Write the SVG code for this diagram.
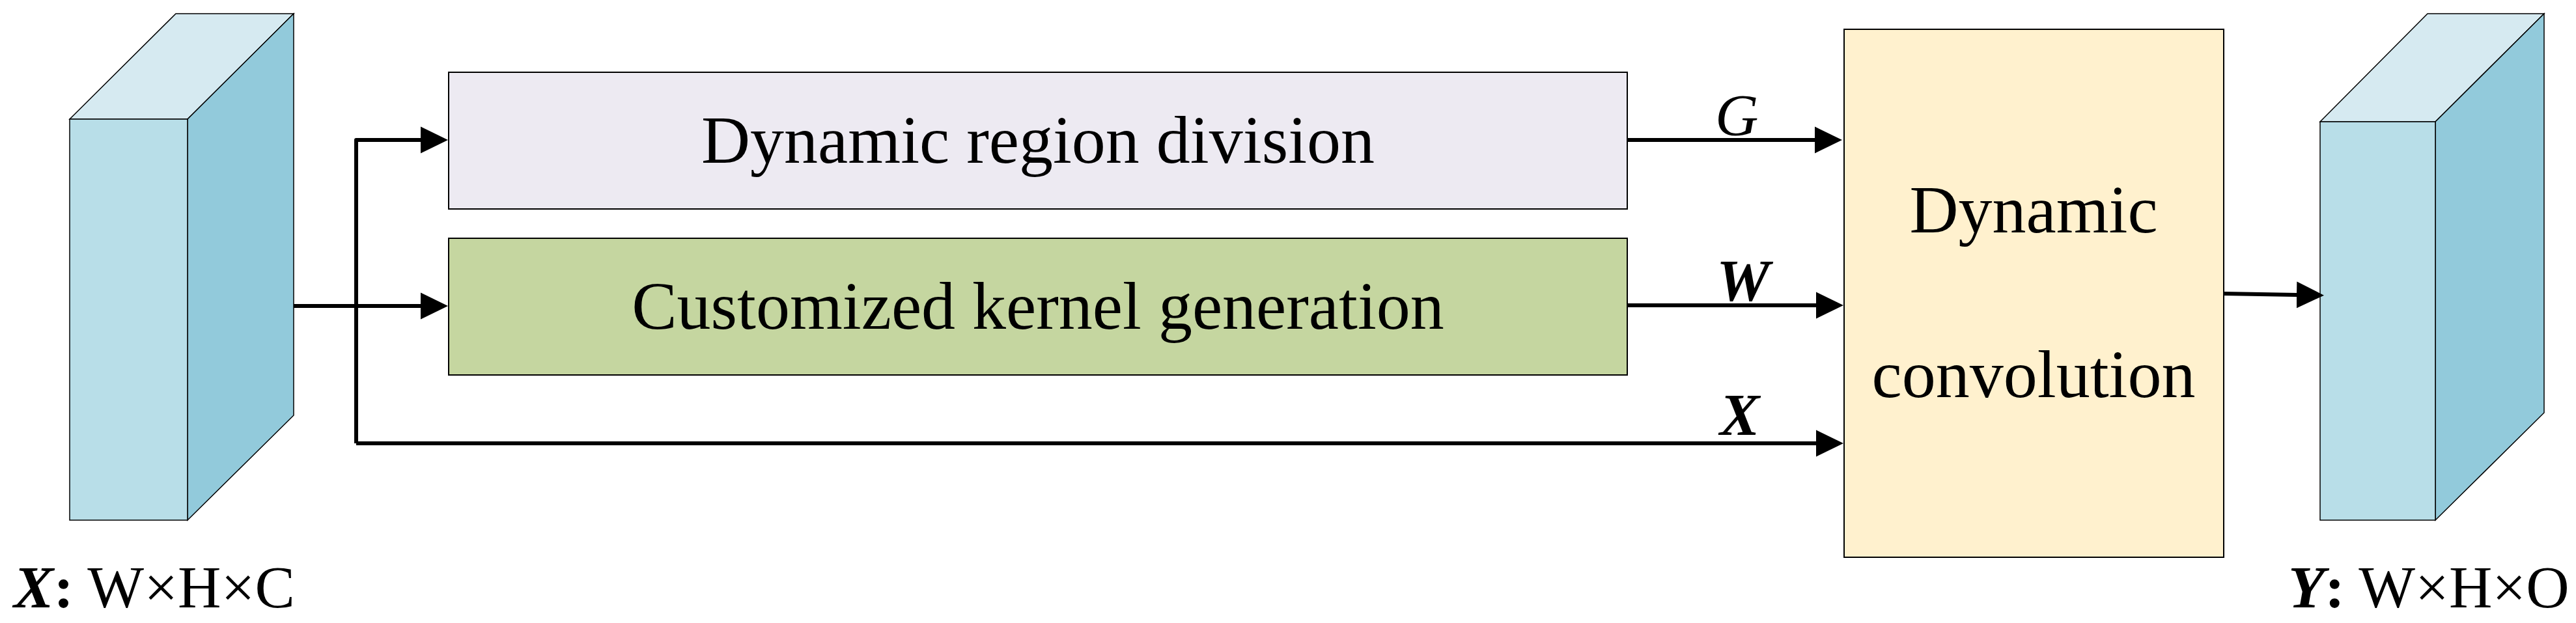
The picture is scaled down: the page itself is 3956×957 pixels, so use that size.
<svg xmlns="http://www.w3.org/2000/svg" width="3956" height="957" viewBox="0 0 3956 957">
<style>
.txt{font-family:"Liberation Serif","Times New Roman",serif;fill:#000}
.big{font-size:104px}
.lbl{font-size:92px}
.front{fill:#B8DEE8;stroke:#000;stroke-width:1.5}
.side{fill:#92CADB;stroke:#000;stroke-width:1.5}
.top{fill:#D6EAF1;stroke:#000;stroke-width:1.5}
.box{stroke:#000;stroke-width:2}
.conn{fill:none;stroke:#000;stroke-width:6;stroke-linejoin:round}
</style>
<defs>
<marker id="ah" markerUnits="userSpaceOnUse" markerWidth="44" markerHeight="42" viewBox="0 -21 44 42" refX="1" refY="0" orient="auto">
<path d="M0,-20.5 L42,0 L0,20.5 Z" fill="#000"/>
</marker>
</defs>
<rect width="3956" height="957" fill="#fff"/>

<g id="input-x">
<polygon class="top" points="107,183 270,21 451,21 288,183"/>
<polygon class="side" points="288,183 451,21 451,638 288,799"/>
<rect class="front" x="107" y="183" width="181" height="616"/>
<text class="txt lbl" x="21" y="933"><tspan font-weight="bold" font-style="italic">X</tspan><tspan font-weight="bold">:</tspan> W×H×C</text>
</g>

<g id="region-division">
<rect class="box" x="689" y="111" width="1810" height="210" fill="#EDEAF2"/>
<text class="txt big" x="1594" y="250" text-anchor="middle">Dynamic region division</text>
</g>

<g id="kernel-generation">
<rect class="box" x="689" y="366" width="1810" height="210" fill="#C5D6A0"/>
<text class="txt big" x="1594" y="505" text-anchor="middle">Customized kernel generation</text>
</g>

<g id="dynamic-convolution">
<rect class="box" x="2832" y="45" width="583" height="811" fill="#FFF1CE"/>
<text class="txt big" x="3123" y="357" text-anchor="middle">Dynamic</text>
<text class="txt big" x="3123" y="610" text-anchor="middle">convolution</text>
</g>

<g id="output-y">
<polygon class="top" points="3563,187 3728,21 3907,21 3740,187"/>
<polygon class="side" points="3740,187 3907,21 3907,634 3740,799"/>
<rect class="front" x="3563" y="187" width="177" height="612"/>
<text class="txt lbl" x="3514" y="933"><tspan font-weight="bold" font-style="italic">Y</tspan><tspan font-weight="bold">:</tspan> W×H×O</text>
</g>

<g id="connectors">
<path class="conn" d="M451 470 H647" marker-end="url(#ah)"/>
<path class="conn" d="M547 681 V215 H647" marker-end="url(#ah)"/>
<path class="conn" d="M547 681 H2790" marker-end="url(#ah)"/>
<path class="conn" d="M2499 215 H2788" marker-end="url(#ah)"/>
<path class="conn" d="M2499 469 H2790" marker-end="url(#ah)"/>
<path class="conn" d="M3415 451 L3528 453" marker-end="url(#ah)"/>
<text class="txt lbl" x="2634" y="208" font-style="italic">G</text>
<text class="txt lbl" x="2636" y="462" font-style="italic" font-weight="bold">W</text>
<text class="txt lbl" x="2641" y="668" font-style="italic" font-weight="bold">X</text>
</g>
</svg>
